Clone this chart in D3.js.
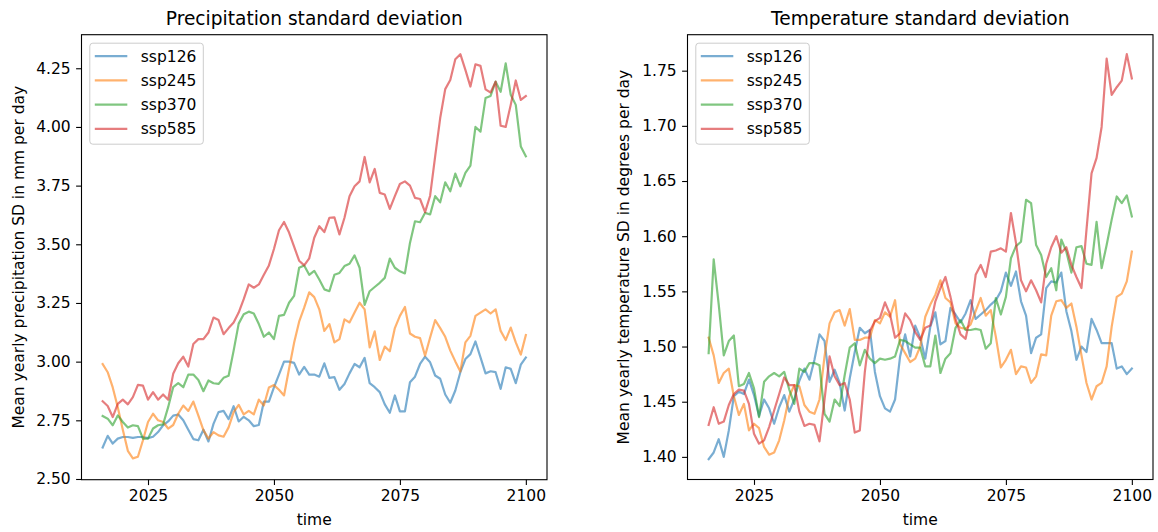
<!DOCTYPE html>
<html><head><meta charset="utf-8">
<script src="https://cdn.jsdelivr.net/npm/d3@7"></script>
<style>body{margin:0;background:#fff}svg{display:block;font-family:"DejaVu Sans",sans-serif}</style>
</head><body><svg id="chart" width="1158" height="532"></svg>
<script>
const years = d3.range(2016, 2101);
const seriesNames = ["ssp126", "ssp245", "ssp370", "ssp585"];
const seriesColors = ["#1f77b4", "#ff7f0e", "#2ca02c", "#d62728"];
const xTicks = [2025, 2050, 2075, 2100];
const precipTicks = [2.50, 2.75, 3.00, 3.25, 3.50, 3.75, 4.00, 4.25];
const tempTicks = [1.40, 1.45, 1.50, 1.55, 1.60, 1.65, 1.70, 1.75];

const precip126 = [2.634,2.684,2.651,2.672,2.679,2.679,2.675,2.679,2.679,2.674,
 2.68,2.70,2.729,2.745,2.77,2.775,2.75,2.71,2.67,2.665,
 2.71,2.66,2.735,2.785,2.79,2.755,2.81,2.745,2.765,2.75,
 2.725,2.73,2.83,2.83,2.89,2.945,3.00,3.00,2.995,2.945,
 2.978,2.945,2.945,2.936,2.993,2.931,2.934,2.88,2.905,2.95,
 2.99,2.976,3.016,2.908,2.891,2.87,2.818,2.782,2.856,2.788,
 2.788,2.912,2.936,2.99,3.021,2.997,2.941,2.927,2.86,2.825,
 2.877,2.955,3.011,3.032,3.086,3.018,2.95,2.959,2.955,2.884,
 2.976,2.969,2.908,2.987,3.018];
const precip245 = [2.99,2.955,2.89,2.806,2.71,2.62,2.588,2.595,2.665,2.743,
 2.778,2.75,2.743,2.715,2.73,2.778,2.813,2.79,2.83,2.77,
 2.708,2.672,2.70,2.686,2.68,2.72,2.785,2.816,2.775,2.79,
 2.775,2.838,2.813,2.89,2.90,2.88,2.856,2.97,3.08,3.17,
 3.23,3.295,3.275,3.223,3.131,3.16,3.082,3.096,3.18,3.167,
 3.209,3.251,3.223,3.061,3.129,3.007,3.064,3.044,3.143,3.195,
 3.233,3.12,3.106,3.10,3.025,3.103,3.177,3.143,3.106,3.047,
 3.001,2.958,3.082,3.11,3.195,3.209,3.223,3.205,3.223,3.131,
 3.092,3.145,3.082,3.03,3.113];
const precip370 = [2.768,2.757,2.729,2.771,2.743,2.719,2.729,2.725,2.672,2.672,
 2.715,2.729,2.733,2.806,2.891,2.908,2.891,2.945,2.945,2.922,
 2.874,2.92,2.908,2.905,2.931,2.94,3.047,3.162,3.202,3.213,
 3.205,3.16,3.106,3.124,3.096,3.195,3.199,3.251,3.28,3.40,
 3.41,3.37,3.387,3.35,3.308,3.30,3.37,3.378,3.407,3.417,
 3.453,3.40,3.242,3.30,3.318,3.336,3.357,3.439,3.40,3.385,
 3.376,3.506,3.598,3.594,3.634,3.627,3.705,3.679,3.764,3.726,
 3.801,3.747,3.804,3.835,4.0,3.98,4.123,4.132,4.193,4.15,
 4.271,4.137,4.094,3.917,3.875];
const precip585 = [2.831,2.811,2.764,2.82,2.838,2.818,2.849,2.901,2.898,2.838,
 2.87,2.838,2.86,2.838,2.948,2.993,3.021,2.979,3.075,3.096,
 3.096,3.124,3.188,3.177,3.117,3.143,3.167,3.209,3.266,3.329,
 3.315,3.329,3.37,3.41,3.48,3.56,3.595,3.55,3.49,3.43,
 3.41,3.44,3.528,3.577,3.552,3.613,3.615,3.542,3.613,3.705,
 3.747,3.768,3.872,3.764,3.821,3.719,3.712,3.651,3.705,3.757,
 3.768,3.75,3.698,3.693,3.637,3.707,3.875,4.038,4.161,4.20,
 4.288,4.31,4.243,4.172,4.267,4.26,4.16,4.147,4.193,4.005,
 4.0,4.094,4.198,4.115,4.132];

const temp126 = [1.398,1.404,1.416,1.40,1.424,1.455,1.459,1.457,1.47,1.456,
 1.437,1.452,1.444,1.43,1.445,1.456,1.441,1.452,1.469,1.48,
 1.47,1.488,1.511,1.505,1.468,1.479,1.467,1.442,1.471,1.495,
 1.517,1.512,1.515,1.477,1.455,1.444,1.441,1.452,1.491,1.511,
 1.491,1.519,1.508,1.489,1.518,1.531,1.502,1.505,1.535,1.529,
 1.522,1.53,1.542,1.525,1.529,1.533,1.538,1.542,1.55,1.567,
 1.555,1.568,1.541,1.528,1.494,1.508,1.511,1.553,1.559,1.558,
 1.567,1.532,1.514,1.488,1.50,1.495,1.525,1.515,1.503,1.503,
 1.503,1.48,1.482,1.475,1.48];
const temp245 = [1.508,1.492,1.467,1.476,1.48,1.455,1.438,1.448,1.424,1.43,
 1.426,1.409,1.402,1.404,1.415,1.433,1.455,1.465,1.464,1.447,
 1.441,1.439,1.452,1.491,1.521,1.531,1.533,1.519,1.534,1.506,
 1.506,1.508,1.508,1.524,1.521,1.531,1.527,1.542,1.502,1.494,
 1.486,1.489,1.50,1.527,1.538,1.547,1.56,1.544,1.54,1.521,
 1.517,1.516,1.52,1.532,1.544,1.528,1.533,1.509,1.481,1.488,
 1.497,1.475,1.482,1.481,1.467,1.473,1.493,1.492,1.528,1.541,
 1.542,1.535,1.539,1.518,1.492,1.467,1.452,1.464,1.467,1.482,
 1.518,1.545,1.548,1.559,1.586];
const temp370 = [1.494,1.579,1.538,1.492,1.505,1.51,1.464,1.466,1.476,1.462,
 1.436,1.468,1.473,1.476,1.473,1.477,1.461,1.448,1.48,1.477,
 1.485,1.485,1.483,1.439,1.432,1.452,1.446,1.474,1.499,1.503,
 1.483,1.497,1.489,1.485,1.489,1.488,1.489,1.491,1.506,1.505,
 1.502,1.499,1.499,1.482,1.482,1.51,1.476,1.489,1.494,1.517,
 1.524,1.515,1.515,1.516,1.515,1.498,1.503,1.544,1.529,1.545,
 1.58,1.591,1.595,1.633,1.63,1.592,1.583,1.563,1.571,1.551,
 1.597,1.586,1.567,1.59,1.591,1.575,1.574,1.613,1.571,1.592,
 1.615,1.636,1.63,1.637,1.618];
const temp585 = [1.429,1.445,1.43,1.432,1.447,1.457,1.461,1.46,1.448,1.421,
 1.412,1.415,1.427,1.442,1.457,1.472,1.465,1.465,1.441,1.428,
 1.43,1.429,1.414,1.452,1.491,1.473,1.465,1.467,1.452,1.422,
 1.424,1.477,1.514,1.523,1.526,1.54,1.529,1.508,1.512,1.53,
 1.524,1.513,1.506,1.517,1.519,1.541,1.553,1.563,1.545,1.525,
 1.511,1.507,1.529,1.565,1.574,1.563,1.586,1.587,1.589,1.586,
 1.621,1.594,1.56,1.55,1.56,1.551,1.54,1.575,1.59,1.6,
 1.585,1.59,1.574,1.563,1.553,1.606,1.657,1.671,1.699,1.761,
 1.728,1.735,1.741,1.765,1.743];

const panels = [
  {title: "Precipitation standard deviation", ylabel: "Mean yearly precipitation SD in mm per day",
   x0: 81.5, x1: 547, y0: 34.7, y1: 479.7, yDomain: [2.497, 4.393], yTicks: precipTicks,
   series: [precip126, precip245, precip370, precip585], ylabelX: 24},
  {title: "Temperature standard deviation", ylabel: "Mean yearly temperature SD in degrees per day",
   x0: 687.5, x1: 1153, y0: 34.7, y1: 479.5, yDomain: [1.3795, 1.7826], yTicks: tempTicks,
   series: [temp126, temp245, temp370, temp585], ylabelX: 629}
];

const svg = d3.select("#chart");
const FS = 15.5;
const tickLen = 5.4, tickPad = 5.4;

panels.forEach(p => {
  const x = d3.scaleLinear().domain([2011.8, 2104.2]).range([p.x0, p.x1]);
  const y = d3.scaleLinear().domain(p.yDomain).range([p.y1, p.y0]);
  const g = svg.append("g");

  const clipId = "clip" + Math.round(p.x0);
  svg.append("clipPath").attr("id", clipId).append("rect")
    .attr("x", p.x0).attr("y", p.y0).attr("width", p.x1 - p.x0).attr("height", p.y1 - p.y0);

  const line = d3.line().x((d, i) => x(years[i])).y(d => y(d));
  const lg = g.append("g").attr("clip-path", `url(#${clipId})`);
  p.series.forEach((s, i) => {
    lg.append("path").datum(s).attr("d", line)
      .attr("fill", "none").attr("stroke", seriesColors[i]).attr("stroke-opacity", 0.6)
      .attr("stroke-width", 2.2).attr("stroke-linejoin", "round").attr("stroke-linecap", "square");
  });

  const xa = g.append("g").attr("transform", `translate(0,${p.y1})`)
    .call(d3.axisBottom(x).tickValues(xTicks).tickFormat(d3.format("d")).tickSize(tickLen).tickPadding(tickPad));
  const ya = g.append("g").attr("transform", `translate(${p.x0},0)`)
    .call(d3.axisLeft(y).tickValues(p.yTicks).tickFormat(d3.format(".2f")).tickSize(tickLen).tickPadding(tickPad));
  [xa, ya].forEach(a => {
    a.select(".domain").remove();
    a.selectAll(".tick line").attr("stroke", "#000").attr("stroke-width", 1.1);
    a.selectAll(".tick text").attr("font-size", FS).attr("fill", "#000").attr("font-family", "DejaVu Sans");
  });

  g.append("rect").attr("x", p.x0).attr("y", p.y0).attr("width", p.x1 - p.x0).attr("height", p.y1 - p.y0)
    .attr("fill", "none").attr("stroke", "#000").attr("stroke-width", 1.1);

  g.append("text").attr("x", (p.x0 + p.x1) / 2).attr("y", 24.5).attr("text-anchor", "middle")
    .attr("font-size", 18.6).attr("fill", "#000").text(p.title);
  g.append("text").attr("x", (p.x0 + p.x1) / 2).attr("y", 525).attr("text-anchor", "middle")
    .attr("font-size", FS).attr("fill", "#000").text("time");
  g.append("text").attr("transform", `translate(${p.ylabelX},${(p.y0 + p.y1) / 2}) rotate(-90)`)
    .attr("text-anchor", "middle").attr("font-size", FS).attr("fill", "#000").text(p.ylabel);

  // legend
  const lx = p.x0 + 8.3, ly = p.y0 + 8.5, lw = 113.5, lh = 101;
  const leg = g.append("g");
  leg.append("rect").attr("x", lx).attr("y", ly).attr("width", lw).attr("height", lh)
    .attr("rx", 3).attr("fill", "#fff").attr("fill-opacity", 0.8).attr("stroke", "#cccccc").attr("stroke-width", 1);
  seriesNames.forEach((n, i) => {
    const cy = ly + 13 + i * 24.2;
    leg.append("line").attr("x1", lx + 5).attr("x2", lx + 37.5).attr("y1", cy).attr("y2", cy)
      .attr("stroke", seriesColors[i]).attr("stroke-opacity", 0.6).attr("stroke-width", 2.2);
    leg.append("text").attr("x", lx + 51).attr("y", cy + 5.5).attr("font-size", FS).attr("fill", "#000").text(n);
  });
});
</script></body></html>
